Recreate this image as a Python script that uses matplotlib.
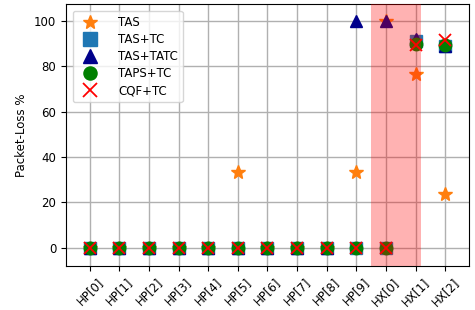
import numpy as np
import matplotlib.pyplot as plt

# Packet loss per stream
labels = ['HP[0]', 'HP[1]', 'HP[2]', 'HP[3]', 'HP[4]', 'HP[5]', 'HP[6]',
          'HP[7]', 'HP[8]', 'HP[9]', 'HX[0]', 'HX[1]', 'HX[2]']
tas = [0, 0, 0, 0, 0, 33.3, 0, 0, 0, 33.3, 100, 76.5, 23.7]
tas_tc = [0, 0, 0, 0, 0, 0, 0, 0, 0, 0, 0, 91, 89]
tas_tatc = [0, 0, 0, 0, 0, 0, 0, 0, 0, 100, 100, 92, 89]
taps_tc = [0, 0, 0, 0, 0, 0, 0, 0, 0, 0, 0, 90, 89.5]
cqf_tc = [0, 0, 0, 0, 0, 0, 0, 0, 0, 0, 0, 89.5, 91.5]

x = np.arange(len(labels))

plt.rcParams['font.size'] = 8.5

fig = plt.figure(figsize=(4.75, 3.1), dpi=100)
ax = fig.add_axes([0.139, 0.142, 0.848, 0.845])

ax.plot(x, tas, '*', color='C1', ms=10, ls='none', label='TAS')
ax.plot(x, tas_tc, 's', color='C0', ms=9, ls='none', label='TAS+TC')
ax.plot(x, tas_tatc, '^', color='darkblue', ms=9, ls='none', label='TAS+TATC')
ax.plot(x, taps_tc, 'o', color='green', ms=9, ls='none', label='TAPS+TC')
ax.plot(x, cqf_tc, 'x', color='red', ms=9, mew=1.3, ls='none', label='CQF+TC')

ax.axvspan(9.5, 11.2, color='red', alpha=0.3, lw=0, zorder=3)

ax.set_xticks(x)
ax.set_xticklabels(labels, rotation=45)
ax.set_yticks([0, 20, 40, 60, 80, 100])
ax.set_xlim(-0.8, 12.8)
ax.set_ylim(-8, 107.5)
ax.set_ylabel('Packet-Loss %')
ax.grid(True, color='#b0b0b0', lw=1)
ax.legend(loc='upper left', labelspacing=0.35, handletextpad=1.4,
          borderaxespad=0.6, markerscale=1.05)

fig.savefig('out.png', dpi=100)
